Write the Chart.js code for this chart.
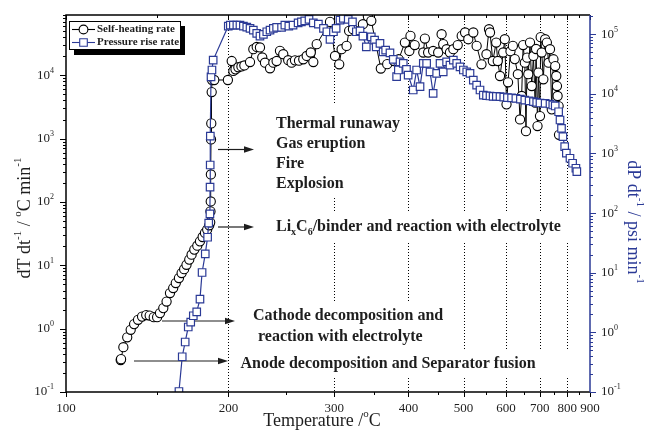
<!DOCTYPE html>
<html>
<head>
<meta charset="utf-8">
<script src="https://cdn.jsdelivr.net/npm/chart.js@4.4.0/dist/chart.umd.min.js"></script>
<style>
  html, body { margin: 0; padding: 0; background: #fff; }
  #c { display: block; }
</style>
</head>
<body>
<canvas id="c" width="647" height="441"></canvas>
<script>
/* ================= DATA ================= */
// temperature (°C) of each self-heating point
const selfHeatTemp = [
  128.6, 128.8, 130.1, 132.3, 134.3, 136.3, 138.6, 141.0, 143.5, 145.6,
  148.1, 150.2, 152.0, 154.1, 156.2, 158.4, 160.5, 162.2, 164.3, 166.1,
  167.8, 169.4, 171.3, 172.9, 174.8, 176.9, 178.8, 180.7, 182.4, 184.0,
  185.5, 186.2, 186.4, 186.6, 186.7, 186.8, 187.0, 187.3, 187.6, 189.2,
  199.6, 202.6, 203.9, 205.6, 207.9, 210.4, 212.8, 217.5, 220.3, 223.2,
  226.0, 228.0, 230.4, 234.9, 237.9, 240.9, 244.0, 247.1, 251.8, 255.1,
  258.4, 262.4, 266.7, 270.2, 274.4, 277.1, 280.7, 295.3, 301.0, 305.9,
  308.7, 314.6, 317.7, 322.4, 335.0, 341.5, 346.0, 359.0, 368.0, 378.0,
  385.0, 394.4, 401.4, 403.2, 410.0, 424.3, 427.0, 432.6, 441.4, 450.5,
  456.8, 459.8, 466.2, 472.7, 479.3, 488.0, 496.2, 503.2, 510.0, 520.9,
  528.3, 539.3, 550.9, 557.0, 559.4, 566.3, 574.6, 578.5, 584.3, 592.5,
  596.8, 601.3, 605.4, 612.0, 618.6, 624.0, 632.6, 638.9, 643.6, 648.0,
  653.0, 656.5, 660.0, 663.5, 668.8, 674.2, 679.5, 685.0, 688.0, 692.6,
  695.6, 700.7, 703.0, 706.4, 712.0, 718.0, 724.0, 730.0, 735.0, 741.3,
  747.4, 753.8, 757.7, 760.3, 762.7, 766.5, 768.0
];
// self-heating rate dT/dt (°C/min)
const selfHeatRate = [
  0.32, 0.33, 0.51, 0.73, 0.96, 1.18, 1.38, 1.55, 1.64, 1.61,
  1.52, 1.52, 1.76, 2.11, 2.68, 3.65, 4.38, 5.25, 6.3, 7.55,
  8.7, 10.2, 12.3, 14.7, 17.7, 20.4, 23.9, 28, 32.5, 36.6,
  42.8, 47.7, 71, 102, 272, 970, 1740, 5440, 8430, 8430,
  8430, 16800, 11700, 12400, 13400, 13800, 14300, 16200, 25800, 28000,
  27500, 19100, 15800, 12900, 15800, 16800, 24300, 21500, 17300, 15800,
  17200, 17000, 17900, 20200, 22900, 16200, 31000, 69700, 20200, 14900,
  25800, 29100, 50200, 53400, 64100, 84900, 72300, 12800, 15000, 16800,
  17900, 32900, 24200, 41900, 30000, 22900, 38000, 22900, 24200, 22900,
  44500, 31000, 25800, 22900, 25800, 30000, 41900, 47400, 37100, 47400,
  29100, 14900, 21500, 53400, 47400, 16800, 32900, 16800, 9750, 22900,
  37100, 3480, 7750, 24000, 29100, 18000, 10400, 2010, 4710, 30000,
  15800, 1310, 19000, 10400, 32900, 6770, 20200, 3700, 26000, 1580,
  11000, 2270, 40000, 22900, 8650, 37100, 32900, 15800, 25800, 2900,
  17900, 14000, 9750, 6770, 4710, 3270, 1150
];
// temperature (°C) of each pressure point
const pressureTemp = [
  164.3, 166.5, 168.5, 170.6, 172.3, 174.1, 176.5, 178.8, 180.3, 182.6,
  184.3, 185.1, 186.0, 186.1, 186.2, 186.3, 186.8, 187.5, 188.4, 199.9,
  201.5, 203.9, 206.7, 209.2, 212.0, 214.8, 217.5, 220.3, 223.2, 226.0,
  229.0, 232.0, 234.9, 237.9, 240.9, 245.5, 248.6, 252.4, 256.5, 261.5,
  264.8, 268.2, 272.6, 277.1, 282.5, 288.0, 291.8, 295.3, 299.2, 302.3,
  306.8, 310.7, 316.6, 321.8, 326.6, 331.3, 335.0, 339.4, 346.0, 350.4,
  352.6, 357.8, 362.2, 365.8, 372.0, 376.8, 381.8, 384.4, 386.9, 391.9,
  396.9, 399.5, 407.6, 413.2, 418.8, 424.3, 430.0, 435.9, 441.4, 447.7,
  453.9, 459.8, 466.2, 472.7, 479.3, 486.0, 492.7, 499.6, 506.7, 513.7,
  520.9, 528.3, 535.9, 543.5, 551.0, 559.4, 567.0, 575.0, 584.3, 594.0,
  603.7, 615.0, 627.0, 640.0, 653.0, 666.0, 679.5, 690.0, 700.7, 718.0,
  735.0, 745.0, 753.8, 766.5, 771.8, 777.5, 783.0, 789.9, 796.5, 811.2,
  822.0, 836.0, 840.0
];
// pressure rise rate dP/dt (psi/min)
const pressureRate = [
  0.102, 0.39, 0.69, 1.23, 1.49, 1.90, 2.21, 3.61, 10.1, 20.7,
  39.4, 67.8, 97, 272, 641, 1960, 19300, 25100, 36800, 137000,
  142000, 142000, 142000, 142000, 137000, 131000, 125000, 117000, 103000, 92900,
  99300, 110000, 117000, 125000, 130000, 130000, 142000, 137000, 142000, 155000,
  161000, 168000, 177000, 155000, 148000, 125000, 110000, 81800, 110000, 125000,
  172000, 184000, 177000, 161000, 110000, 114000, 92900, 61500, 90400, 79600,
  61500, 70100, 50700, 54200, 48800, 37900, 19400, 25100, 34500, 32400,
  25700, 20600, 11600, 25100, 13200, 32400, 32400, 23400, 10200, 22000,
  32400, 23400, 34500, 30300, 36800, 32400, 28400, 25100, 23400, 22000,
  17000, 14000, 11600, 9550, 9300, 9200, 9100, 9050, 8950, 8800,
  8670, 8550, 8410, 8150, 7870, 7600, 7380, 7200, 7020, 6900,
  6750, 6500, 6250, 5010, 3640, 2640, 1910, 1300, 1010, 832,
  686, 565, 496
];

// axis ticks
const tempTicks = [100, 150, 200, 250, 300, 350, 400, 450, 500, 550, 600, 650, 700, 750, 800, 850, 900];
const tempLabels = [100, 200, 300, 400, 500, 600, 700, 800, 900];
const gridTemps = [200, 300, 400, 500, 600, 700, 800];
const rateExponents = [-1, 0, 1, 2, 3, 4];
const pressureExponents = [-1, 0, 1, 2, 3, 4, 5];

/* ================= STYLE ================= */
const FONT = '"Liberation Serif", "Times New Roman", serif';
const BLUE = '#2b3a96';
const INK = '#1e1e1e';

// x axis is linear in -1/(T in K)
function tx(t) { return -1000 / (t + 273.15); }

/* ================= TEXT HELPERS ================= */
function drawRich(ctx, segs, x, y, size, bold, align) {
  const w8 = bold ? 'bold ' : '';
  const small = Math.round(size * 0.62);
  const fontOf = s => (s.sup || s.sub) ? `${w8}${small}px ${FONT}` : `${w8}${size}px ${FONT}`;
  let total = 0;
  segs.forEach(s => { ctx.font = fontOf(s); total += ctx.measureText(s.t).width; });
  let cx = align === 'center' ? x - total / 2 : align === 'right' ? x - total : x;
  ctx.textAlign = 'left';
  ctx.textBaseline = 'middle';
  segs.forEach(s => {
    ctx.font = fontOf(s);
    const dy = s.sup ? -size * 0.36 : s.sub ? size * 0.34 : 0;
    ctx.fillText(s.t, cx, y + dy);
    cx += ctx.measureText(s.t).width;
  });
  return total;
}

function seg(t, sup, sub) { return { t, sup: !!sup, sub: !!sub }; }

function arrow(ctx, x1, x2, y) {
  ctx.beginPath();
  ctx.moveTo(x1, y);
  ctx.lineTo(x2 - 8, y);
  ctx.stroke();
  ctx.beginPath();
  ctx.moveTo(x2, y);
  ctx.lineTo(x2 - 10, y - 3.2);
  ctx.lineTo(x2 - 10, y + 3.2);
  ctx.closePath();
  ctx.fill();
}

/* ================= ANNOTATIONS (behind data) ================= */
const annotationPlugin = {
  id: 'annotations',
  beforeDatasetsDraw(chart) {
    const ctx = chart.ctx, ca = chart.chartArea, xs = chart.scales.x;
    ctx.save();

    // dotted guide lines
    ctx.strokeStyle = '#000';
    ctx.lineWidth = 1;
    ctx.setLineDash([1, 2]);
    gridTemps.forEach(t => {
      const px = Math.round(xs.getPixelForValue(tx(t))) + 0.5;
      ctx.beginPath();
      ctx.moveTo(px, ca.top);
      ctx.lineTo(px, ca.bottom);
      ctx.stroke();
    });
    ctx.setLineDash([]);

    // white text boxes
    ctx.fillStyle = '#fff';
    [[272, 105, 132, 92], [272, 213, 300, 30], [249, 302, 201, 48], [236, 350, 336, 28]]
      .forEach(b => ctx.fillRect(b[0], b[1], b[2], b[3]));

    ctx.fillStyle = INK;
    const s = 16;
    drawRich(ctx, [seg('Thermal runaway')], 276, 123.5, s, true, 'left');
    drawRich(ctx, [seg('Gas eruption')], 276, 143.5, s, true, 'left');
    drawRich(ctx, [seg('Fire')], 276, 163.5, s, true, 'left');
    drawRich(ctx, [seg('Explosion')], 276, 183.5, s, true, 'left');
    drawRich(ctx, [seg('Li'), seg('x', false, true), seg('C'), seg('6', false, true),
      seg('/binder and reaction with electrolyte')], 276, 227, s, true, 'left');
    drawRich(ctx, [seg('Cathode decomposition and')], 253, 316, s, true, 'left');
    drawRich(ctx, [seg('reaction with electrolyte')], 258, 336.5, s, true, 'left');
    drawRich(ctx, [seg('Anode decomposition and Separator fusion')], 240.5, 364, s, true, 'left');

    // arrows
    ctx.strokeStyle = INK;
    ctx.fillStyle = INK;
    ctx.lineWidth = 1.2;
    arrow(ctx, 218, 254, 149.5);
    arrow(ctx, 218, 254, 227);
    arrow(ctx, 162, 235, 321);
    arrow(ctx, 134, 228, 361);

    ctx.restore();
  }
};

/* ================= AXES, TICKS, LEGEND ================= */
const axisPlugin = {
  id: 'axes',
  afterDraw(chart) {
    const ctx = chart.ctx, ca = chart.chartArea;
    const xs = chart.scales.x, ys = chart.scales.y, y2 = chart.scales.y2;
    ctx.save();
    ctx.lineWidth = 1;

    // x ticks bottom (outward) and top (inward)
    ctx.strokeStyle = '#000';
    tempTicks.forEach(t => {
      const px = Math.round(xs.getPixelForValue(tx(t))) + 0.5;
      const len = t % 100 === 0 ? 5 : 3;
      ctx.beginPath();
      ctx.moveTo(px, ca.bottom); ctx.lineTo(px, ca.bottom + len);
      ctx.moveTo(px, ca.top); ctx.lineTo(px, ca.top + len);
      ctx.stroke();
    });
    ctx.fillStyle = INK;
    tempLabels.forEach(t => {
      drawRich(ctx, [seg(String(t))], xs.getPixelForValue(tx(t)), 409, 13, false, 'center');
    });

    // log ticks for a y scale
    function logTicks(scale, exps, x0, dir, color) {
      ctx.strokeStyle = color;
      exps.forEach(e => {
        for (let m = 1; m <= 9; m++) {
          const v = m * Math.pow(10, e);
          const py = scale.getPixelForValue(v);
          if (py < ca.top - 0.5 || py > ca.bottom + 0.5) continue;
          const len = m === 1 ? 6 : 3;
          const yy = Math.round(py) + 0.5;
          ctx.beginPath();
          ctx.moveTo(x0, yy); ctx.lineTo(x0 + dir * len, yy);
          ctx.stroke();
        }
      });
    }
    logTicks(ys, rateExponents.concat([5]), ca.left, -1, '#000');
    logTicks(y2, pressureExponents, ca.right, 1, BLUE);

    ctx.fillStyle = INK;
    rateExponents.forEach(e => {
      drawRich(ctx, [seg('10'), seg(String(e), true)], 54, ys.getPixelForValue(Math.pow(10, e)), 13, false, 'right');
    });
    pressureExponents.forEach(e => {
      drawRich(ctx, [seg('10'), seg(String(e), true)], 601, y2.getPixelForValue(Math.pow(10, e)), 13, false, 'left');
    });

    // frame
    ctx.lineWidth = 1.5;
    ctx.strokeStyle = '#000';
    ctx.beginPath();
    ctx.moveTo(ca.left, ca.bottom); ctx.lineTo(ca.left, ca.top); ctx.lineTo(ca.right, ca.top);
    ctx.moveTo(ca.left, ca.bottom); ctx.lineTo(ca.right, ca.bottom);
    ctx.stroke();
    ctx.strokeStyle = BLUE;
    ctx.beginPath();
    ctx.moveTo(ca.right, ca.top); ctx.lineTo(ca.right, ca.bottom);
    ctx.stroke();

    // axis titles
    ctx.fillStyle = INK;
    drawRich(ctx, [seg('Temperature /'), seg('o', true), seg('C')], 322, 421, 18, false, 'center');

    ctx.save();
    ctx.translate(25, 218);
    ctx.rotate(-Math.PI / 2);
    drawRich(ctx, [seg('dT dt'), seg('-1', true), seg(' / '), seg('o', true), seg('C min'), seg('-1', true)], 0, 0, 18, false, 'center');
    ctx.restore();

    ctx.save();
    ctx.fillStyle = BLUE;
    ctx.translate(633, 222);
    ctx.rotate(Math.PI / 2);
    drawRich(ctx, [seg('dP dt'), seg('-1', true), seg(' / psi min'), seg('-1', true)], 0, 0, 18, false, 'center');
    ctx.restore();

    // legend with drop shadow
    ctx.fillStyle = '#000';
    ctx.fillRect(74, 26, 111, 29);
    ctx.fillStyle = '#fff';
    ctx.fillRect(69, 21, 112, 29);
    ctx.lineWidth = 1;
    ctx.strokeStyle = '#000';
    ctx.strokeRect(69.5, 21.5, 111, 28);

    const entries = [
      { label: 'Self-heating rate', color: '#000', style: 'circle', y: 29.5 },
      { label: 'Pressure rise rate', color: BLUE, style: 'rect', y: 42.5 }
    ];
    entries.forEach(en => {
      ctx.strokeStyle = en.color;
      ctx.lineWidth = 1.1;
      ctx.beginPath();
      ctx.moveTo(72, en.y); ctx.lineTo(95, en.y);
      ctx.stroke();
      ctx.fillStyle = '#fff';
      ctx.beginPath();
      if (en.style === 'circle') ctx.arc(83.5, en.y, 4.4, 0, Math.PI * 2);
      else ctx.rect(79.7, en.y - 3.8, 7.6, 7.6);
      ctx.fill();
      ctx.stroke();
      ctx.fillStyle = INK;
      drawRich(ctx, [seg(en.label)], 97, en.y, 11, true, 'left');
    });

    ctx.restore();
  }
};

/* ================= CHART ================= */
const selfHeatPoints = selfHeatTemp.map((t, i) => ({ x: tx(t), y: selfHeatRate[i] }));
const pressurePoints = pressureTemp.map((t, i) => ({ x: tx(t), y: pressureRate[i] }));

new Chart(document.getElementById('c'), {
  type: 'line',
  data: {
    datasets: [
      {
        label: 'Pressure rise rate',
        data: pressurePoints,
        yAxisID: 'y2',
        borderColor: BLUE,
        borderWidth: 1.2,
        pointStyle: 'rect',
        pointRadius: 5.3,
        pointBorderWidth: 1.2,
        pointBackgroundColor: '#fff',
        pointBorderColor: BLUE,
        tension: 0
      },
      {
        label: 'Self-heating rate',
        data: selfHeatPoints,
        yAxisID: 'y',
        borderColor: '#000',
        borderWidth: 1,
        pointStyle: 'circle',
        pointRadius: 4.6,
        pointBorderWidth: 1.1,
        pointBackgroundColor: '#fff',
        pointBorderColor: '#000',
        tension: 0
      }
    ]
  },
  options: {
    responsive: false,
    animation: false,
    events: [],
    layout: { padding: { top: 15, left: 0, right: 0, bottom: 0 } },
    plugins: { legend: { display: false }, tooltip: { enabled: false } },
    scales: {
      x: {
        type: 'linear', min: tx(100), max: tx(900),
        grid: { display: false }, border: { display: false }, ticks: { display: false },
        afterFit(s) { s.height = 49; }
      },
      y: {
        type: 'logarithmic', position: 'left', min: 0.1, max: 89500,
        grid: { display: false }, border: { display: false }, ticks: { display: false },
        afterFit(s) { s.width = 66; }
      },
      y2: {
        type: 'logarithmic', position: 'right', min: 0.1, max: 210000,
        grid: { display: false }, border: { display: false }, ticks: { display: false },
        afterFit(s) { s.width = 57; }
      }
    }
  },
  plugins: [annotationPlugin, axisPlugin]
});
</script>
</body>
</html>
